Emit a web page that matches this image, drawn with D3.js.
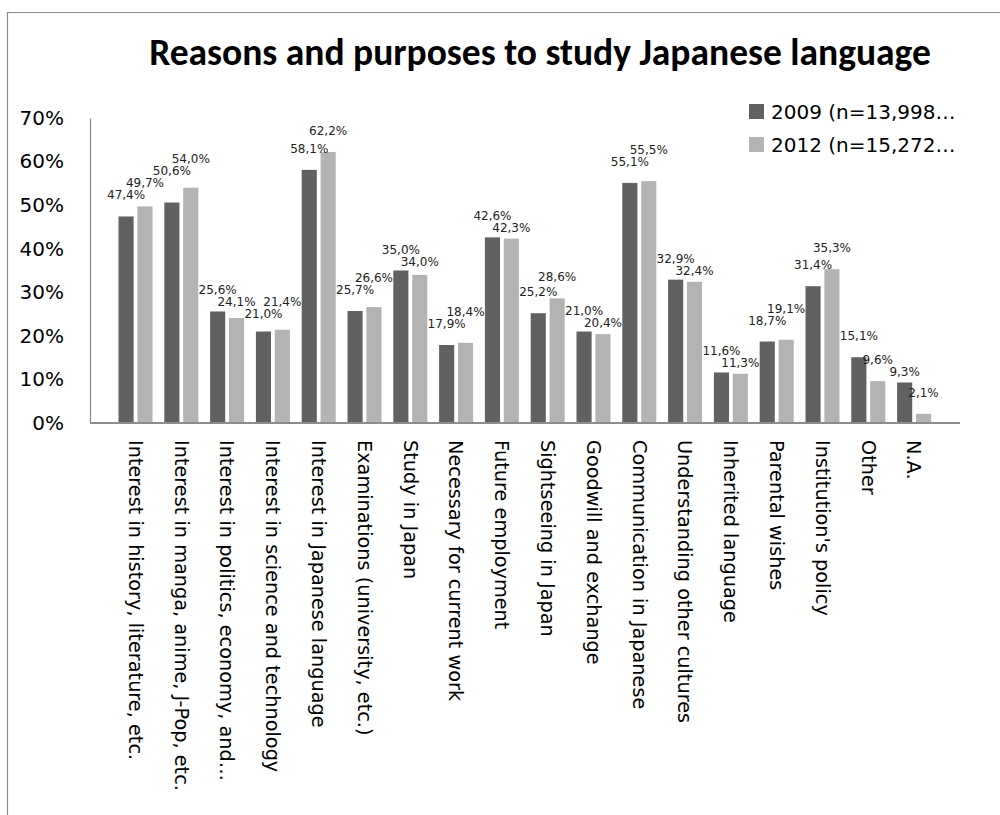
<!DOCTYPE html>
<html>
<head>
<meta charset="utf-8">
<script src="https://cdn.jsdelivr.net/npm/d3@7"></script>
<style>
    body { margin: 0; background: #fff; }
    svg { font-family: "DejaVu Sans", sans-serif; }
</style>
</head>
<body>
<svg id="chart"></svg>
<script>
// Survey data (percent of institutions)
const categories = [
    "Interest in history, literature, etc.",
    "Interest in manga, anime, J-Pop, etc.",
    "Interest in politics, economy, and…",
    "Interest in science and technology",
    "Interest in Japanese language",
    "Examinations (university, etc.)",
    "Study in Japan",
    "Necessary for current work",
    "Future employment",
    "Sightseeing in Japan",
    "Goodwill and exchange",
    "Communication in Japanese",
    "Understanding other cultures",
    "Inherited language",
    "Parental wishes",
    "Institution's policy",
    "Other",
    "N.A."
];
const values2009 = [47.4, 50.6, 25.6, 21.0, 58.1, 25.7, 35.0, 17.9, 42.6, 25.2, 21.0, 55.1, 32.9, 11.6, 18.7, 31.4, 15.1, 9.3];
const values2012 = [49.7, 54.0, 24.1, 21.4, 62.2, 26.6, 34.0, 18.4, 42.3, 28.6, 20.4, 55.5, 32.4, 11.3, 19.1, 35.3, 9.6, 2.1];
const seriesKeys = ["2009", "2012"];
const seriesNames = ["2009 (n=13,998…", "2012 (n=15,272…"];
const yTicks = [0, 10, 20, 30, 40, 50, 60, 70];

const colors = { "2009": "#616161", "2012": "#b3b3b3" };
const bodyFont = "'DejaVu Sans', sans-serif";

const width = 1000, height = 815;
const svg = d3.select("#chart").attr("width", width).attr("height", height);

// outer frame (left and top edges visible)
svg.append("path")
    .attr("d", `M7.5,${height} V12.5 H${width}`)
    .attr("fill", "none")
    .attr("stroke", "#8c8c8c")
    .attr("stroke-width", 1.2);

// title
svg.append("text")
    .attr("x", 540)
    .attr("y", 65)
    .attr("text-anchor", "middle")
    .style("font-family", "Carlito, Calibri, Lato, sans-serif")
    .style("font-weight", "bold")
    .style("font-size", "37.5px")
    .text("Reasons and purposes to study Japanese language");

const plot = { left: 90, right: 960, top: 118, bottom: 423 };

const y = d3.scaleLinear().domain([0, 70]).range([plot.bottom, plot.top]);
const x = d3.scaleBand().domain(categories).range([112.6, 937]);
const pairWidth = 34;
const x1 = d3.scaleBand().domain(seriesKeys).range([0, pairWidth]).paddingInner(0.2);

const data = categories.map((c, i) => ({
    cat: c,
    vals: [
        { key: "2009", value: values2009[i] },
        { key: "2012", value: values2012[i] }
    ]
}));

// y axis
const yAxis = svg.append("g")
    .attr("transform", `translate(${plot.left},0)`)
    .call(d3.axisLeft(y).tickValues(yTicks).tickSize(0).tickPadding(26).tickFormat(d => d + "%"));
yAxis.attr("font-family", bodyFont);
yAxis.select(".domain").attr("stroke", "#8c8c8c").attr("stroke-width", 1.2);
yAxis.selectAll("text").style("font-size", "20px").attr("fill", "#000");

// bars
const groups = svg.selectAll(".grp")
    .data(data)
    .join("g")
    .attr("class", "grp")
    .attr("transform", d => `translate(${x(d.cat) + (x.bandwidth() - pairWidth) / 2},0)`);

groups.selectAll("rect")
    .data(d => d.vals)
    .join("rect")
    .attr("x", d => x1(d.key))
    .attr("y", d => y(d.value))
    .attr("width", x1.bandwidth())
    .attr("height", d => y(0) - y(d.value))
    .attr("fill", d => colors[d.key]);

// value labels: above each bar, nudged up/down when they collide with earlier ones
const lift = 17, minGap = 12;
const placed = [];
groups.each(function (d) {
    const gx = x(d.cat) + (x.bandwidth() - pairWidth) / 2;
    d.vals.forEach(v => {
        const cx = x1(v.key) + x1.bandwidth() / 2;
        const t = d3.select(this).append("text")
            .attr("class", "lbl")
            .attr("x", cx)
            .attr("text-anchor", "middle")
            .style("font-size", "12px")
            .attr("fill", "#222")
            .text(v.value.toFixed(1).replace(".", ",") + "%");
        const w = t.node().getComputedTextLength();
        const top = y(v.value);
        const box = { x0: gx + cx - w / 2, x1: gx + cx + w / 2, y: top - lift };
        for (let k = 0; k < 10; k++) {
            const hit = placed.find(p => p.x0 < box.x1 && box.x0 < p.x1 && Math.abs(p.y - box.y) < minGap);
            if (!hit) break;
            const down = hit.y + minGap;
            box.y = (box.y > hit.y && down <= top - 4) ? down : hit.y - minGap;
        }
        placed.push(box);
        t.attr("y", box.y);
    });
});

// x axis line
svg.append("line")
    .attr("x1", plot.left).attr("x2", plot.right)
    .attr("y1", y(0)).attr("y2", y(0))
    .attr("stroke", "#8c8c8c")
    .attr("stroke-width", 2);

// category labels, rotated
const xAxis = svg.append("g")
    .attr("transform", `translate(0,${y(0)})`)
    .call(d3.axisBottom(x).tickSize(0));
xAxis.attr("font-family", bodyFont);
xAxis.select(".domain").remove();
xAxis.selectAll("text")
    .attr("transform", "rotate(90)")
    .attr("x", 17)
    .attr("y", 0)
    .attr("dy", "0.35em")
    .attr("text-anchor", "start")
    .attr("fill", "#000")
    .style("font-size", "19.3px");

// legend
const legend = svg.append("g")
    .attr("transform", "translate(749,104)");
const rows = legend.selectAll("g")
    .data(seriesKeys)
    .join("g")
    .attr("transform", (d, i) => `translate(0,${i * 33})`);
rows.append("rect")
    .attr("width", 15)
    .attr("height", 15)
    .attr("fill", d => colors[d]);
rows.append("text")
    .attr("x", 22)
    .attr("y", 15)
    .style("font-size", "20px")
    .text((d, i) => seriesNames[i]);
</script>
</body>
</html>
